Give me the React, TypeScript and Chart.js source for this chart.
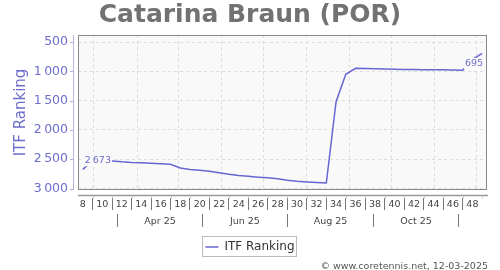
import React, { useEffect, useRef } from 'react';
import { Chart, registerables } from 'chart.js';

Chart.register(...registerables);

// ---- data ----
const weeks = [8, 9, 10, 11, 12, 13, 14, 15, 16, 17, 18, 19, 20, 21, 22, 23, 24, 25, 26, 27, 28, 29, 30, 31, 32, 33, 34, 35, 36, 37, 38, 39, 40, 41, 42, 43, 44, 45, 46, 47, 48, 49];
const ranking = [2673, 2520, 2524, 2530, 2545, 2556, 2562, 2568, 2575, 2585, 2648, 2675, 2690, 2706, 2730, 2757, 2778, 2792, 2806, 2818, 2835, 2858, 2875, 2887, 2896, 2906, 1519, 1051, 949, 952, 956, 960, 964, 967, 970, 972, 973, 975, 978, 983, 800, 695];
const weekTickLabels = [8, 10, 12, 14, 16, 18, 20, 22, 24, 26, 28, 30, 32, 34, 36, 38, 40, 42, 44, 46, 48];
const separatorWeeks = [9, 11, 13, 15, 17, 19, 21, 23, 25, 27, 29, 31, 33, 35, 37, 39, 41, 43, 45, 47];
const minorTickWeeks = [9, 11, 13, 15, 17, 19, 21, 23, 25, 27, 29, 31, 33, 35, 37, 39, 41, 43, 45, 47, 49];
const monthGridDates = ['2025-03-01', '2025-04-01', '2025-05-01', '2025-06-01', '2025-07-01', '2025-08-01', '2025-09-01', '2025-10-01', '2025-11-01', '2025-12-01'];
const monthBandEdges = ['2025-03-18', '2025-05-18', '2025-07-18', '2025-09-18', '2025-11-18'];
const monthLabels = ['Apr 25', 'Jun 25', 'Aug 25', 'Oct 25'];
const rankTicks = [500, 1000, 1500, 2000, 2500, 3000];
const chartTitle = 'Catarina Braun (POR)';
const seriesName = 'ITF Ranking';
const credit = '\u00A9 www.coretennis.net, 12-03-2025';

// ---- styling ----
const FONT = "'DejaVu Sans', sans-serif";
const PURPLE = '#6d6dcc';
const LINE = '#6666d2';
const PLOT_BG = '#f9f9f9';
const X_MIN = 7.5;
const X_MAX = 49.5;
const Y_MIN = 380;
const Y_MAX = 3025;

const REF_DAY = Date.UTC(2025, 1, 21); // date aligned with week 8
const dateToWeek = (s: string) => {
  const [y, m, d] = s.split('-').map(Number);
  return 8 + (Date.UTC(y, m - 1, d) - REF_DAY) / (7 * 86400000);
};
const bandEdgeWeeks = monthBandEdges.map(dateToWeek);
const monthCenterWeeks = monthLabels.map((_, i) => (bandEdgeWeeks[i] + bandEdgeWeeks[i + 1]) / 2);

const fmt = (v: number) =>
  v >= 1000 ? `${Math.floor(v / 1000)}\u2009${String(v % 1000).padStart(3, '0')}` : String(v);

const setTicks = (vals: number[]) => (s: any) => {
  s.ticks = vals.map((v) => ({ value: v }));
};
const fixH = (h: number) => (s: any) => {
  s.height = h;
};

const decorPlugin = {
  id: 'decor',
  beforeDraw(chart: any) {
    const { ctx, chartArea: a, width, height } = chart;
    ctx.save();
    ctx.fillStyle = '#ffffff';
    ctx.fillRect(0, 0, width, height);
    ctx.fillStyle = PLOT_BG;
    ctx.fillRect(a.left, a.top, a.right - a.left, a.bottom - a.top);
    ctx.restore();
  },
  afterDatasetsDraw(chart: any) {
    const { ctx } = chart;
    const pts = chart.getDatasetMeta(0).data;
    const first = pts[0];
    const last = pts[pts.length - 1];
    ctx.save();
    ctx.font = `9.5px ${FONT}`;
    ctx.textBaseline = 'middle';
    const drawLabel = (text: string, x: number, y: number, align: 'left' | 'right') => {
      const w = ctx.measureText(text).width;
      const left = align === 'left' ? x : x - w;
      ctx.fillStyle = PLOT_BG;
      ctx.fillRect(left - 1, y - 5.5, w + 2, 11);
      ctx.fillStyle = PURPLE;
      ctx.textAlign = align;
      ctx.fillText(text, x, y);
    };
    drawLabel(fmt(ranking[0]), first.x + 2, first.y - 8.5, 'left');
    drawLabel(fmt(ranking[ranking.length - 1]), last.x + 1, last.y + 10, 'right');
    ctx.restore();
  },
  afterDraw(chart: any) {
    const { ctx, chartArea: a } = chart;
    const ys = chart.scales.y;
    const xs = chart.scales.x;
    ctx.save();
    // plot frame
    ctx.strokeStyle = '#888888';
    ctx.lineWidth = 1;
    ctx.strokeRect(a.left + 0.5, a.top + 0.5, a.right - a.left - 1, a.bottom - a.top - 1);

    // offset y axis line with ticks
    ctx.strokeStyle = '#b4b4e4';
    ctx.beginPath();
    const yx = a.left - 4.5;
    ctx.moveTo(yx, a.top);
    ctx.lineTo(yx, a.bottom);
    rankTicks.forEach((v) => {
      const py = Math.round(ys.getPixelForValue(v)) + 0.5;
      ctx.moveTo(yx - 3.5, py);
      ctx.lineTo(yx, py);
    });
    ctx.stroke();

    // offset x axis line
    ctx.strokeStyle = '#999999';
    ctx.lineWidth = 1.5;
    ctx.beginPath();
    const xy = a.bottom + 5.5;
    ctx.moveTo(a.left, xy);
    ctx.lineTo(a.right + 1, xy);
    ctx.stroke();
    ctx.lineWidth = 1;
    ctx.strokeStyle = '#c4c4c4';
    ctx.beginPath();
    minorTickWeeks.forEach((w) => {
      const px = Math.round(xs.getPixelForValue(w)) + 0.5;
      ctx.moveTo(px, xy + 1);
      ctx.lineTo(px, xy + 3);
    });
    ctx.stroke();

    // legend frame
    const hb = chart.legend && chart.legend.legendHitBoxes && chart.legend.legendHitBoxes[0];
    if (hb) {
      ctx.strokeStyle = '#bbbbbb';
      ctx.strokeRect(Math.round(hb.left - 3) + 0.5, Math.round(hb.top - 5) + 0.5, Math.round(hb.width + 5), Math.round(hb.height + 8));
    }

    // credit
    ctx.font = `9.5px ${FONT}`;
    ctx.fillStyle = '#555555';
    ctx.textAlign = 'right';
    ctx.textBaseline = 'middle';
    ctx.fillText(credit, 488, 266.5);
    ctx.restore();
  },
};

export default function App() {
  const ref = useRef<HTMLCanvasElement>(null);

  useEffect(() => {
    if (!ref.current) return;
    Chart.defaults.font.family = FONT;
    const chart = new Chart(ref.current, {
      type: 'line',
      data: {
        datasets: [
          {
            label: seriesName,
            data: weeks.map((w, i) => ({ x: w, y: ranking[i] })),
            borderColor: LINE,
            backgroundColor: LINE,
            borderWidth: 1.5,
            pointRadius: 0,
            tension: 0,
            xAxisID: 'x',
            yAxisID: 'y',
          },
        ],
      },
      options: {
        responsive: false,
        animation: false,
        events: [],
        layout: { padding: { top: 0, left: 0, right: 0, bottom: 7 } },
        plugins: {
          tooltip: { enabled: false },
          title: {
            display: true,
            text: chartTitle,
            color: '#727272',
            font: { family: FONT, size: 25, weight: 'bold', lineHeight: 1.2 },
            padding: { top: 0.5, bottom: 4.5 },
          },
          legend: {
            display: true,
            position: 'bottom',
            labels: {
              usePointStyle: true,
              pointStyle: 'line',
              pointStyleWidth: 13,
              boxHeight: 12,
              padding: 10,
              color: '#333333',
              font: { family: FONT, size: 12 },
            },
          },
        },
        scales: {
          x: {
            type: 'linear',
            position: 'bottom',
            min: X_MIN,
            max: X_MAX,
            weight: 0,
            afterBuildTicks: setTicks(monthGridDates.map(dateToWeek)),
            afterFit: fixH(8),
            grid: { display: true, drawOnChartArea: true, drawTicks: false, color: '#dcdcdc', lineWidth: 1 },
            border: { display: false, dash: [3, 3] },
            ticks: { display: false },
          },
          xs: {
            type: 'linear',
            position: 'bottom',
            min: X_MIN,
            max: X_MAX,
            weight: 1,
            afterBuildTicks: setTicks(separatorWeeks),
            afterFit: fixH(0),
            grid: { display: true, drawOnChartArea: false, drawTicks: true, tickLength: 12, tickColor: '#777777', tickWidth: 1 },
            border: { display: false },
            ticks: { display: false },
          },
          xw: {
            type: 'linear',
            position: 'bottom',
            min: X_MIN,
            max: X_MAX,
            weight: 2,
            afterBuildTicks: setTicks(weekTickLabels),
            afterFit: fixH(16),
            grid: { display: false, drawTicks: false },
            border: { display: false },
            ticks: {
              display: true,
              autoSkip: false,
              maxRotation: 0,
              minRotation: 0,
              padding: 0.5,
              color: '#444444',
              font: { family: FONT, size: 9.5 },
              callback: (v: any) => String(v),
            },
          },
          xm: {
            type: 'linear',
            position: 'bottom',
            min: X_MIN,
            max: X_MAX,
            weight: 3,
            afterBuildTicks: setTicks(bandEdgeWeeks),
            afterFit: fixH(0),
            grid: { display: true, drawOnChartArea: false, drawTicks: true, tickLength: 13, tickColor: '#777777', tickWidth: 1 },
            border: { display: false },
            ticks: { display: false },
          },
          xl: {
            type: 'linear',
            position: 'bottom',
            min: X_MIN,
            max: X_MAX,
            weight: 4,
            afterBuildTicks: setTicks(monthCenterWeeks),
            afterFit: fixH(17),
            grid: { display: false, drawTicks: false },
            border: { display: false },
            ticks: {
              display: true,
              autoSkip: false,
              maxRotation: 0,
              minRotation: 0,
              padding: 1.5,
              color: '#444444',
              font: { family: FONT, size: 9.5 },
              callback: (_v: any, i: number) => monthLabels[i],
            },
          },
          y: {
            type: 'linear',
            position: 'left',
            reverse: true,
            min: Y_MIN,
            max: Y_MAX,
            afterBuildTicks: setTicks(rankTicks),
            afterFit: (s: any) => {
              s.width = 78;
            },
            grid: { display: true, drawTicks: false, color: '#dcdcdc', lineWidth: 1 },
            border: { display: false, dash: [3, 3] },
            ticks: {
              padding: 10,
              color: PURPLE,
              font: { family: FONT, size: 12.5 },
              callback: (v: any) => fmt(Number(v)),
            },
            title: {
              display: true,
              text: seriesName,
              color: PURPLE,
              font: { family: FONT, size: 15 },
              padding: { top: 12, bottom: 0 },
            },
          },
          yr: {
            type: 'linear',
            position: 'right',
            display: true,
            min: 0,
            max: 1,
            afterFit: (s: any) => {
              s.width = 13;
            },
            grid: { display: false, drawTicks: false },
            border: { display: false },
            ticks: { display: false },
          },
        },
      } as any,
      plugins: [decorPlugin],
    });
    return () => chart.destroy();
  }, []);

  return (
    <div style={{ position: 'fixed', left: 0, top: 0, width: 500, height: 270, background: '#fff' }}>
      <canvas ref={ref} width={500} height={270} style={{ display: 'block', width: 500, height: 270 }} />
    </div>
  );
}
